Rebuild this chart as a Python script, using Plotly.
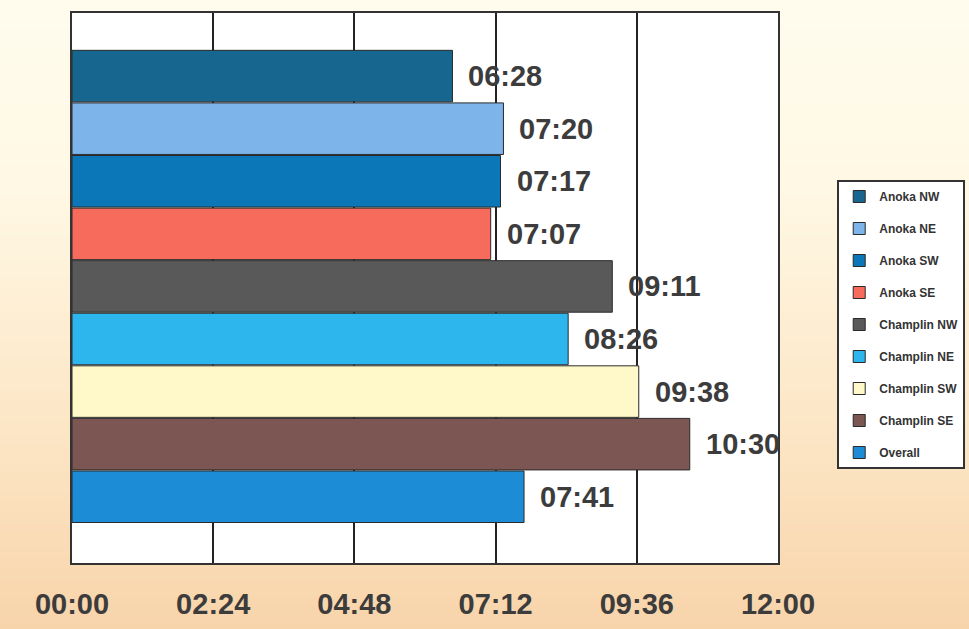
"""Response times by district: horizontal bar chart on a cream-to-peach backdrop."""
import plotly.graph_objects as go

# ── data ──────────────────────────────────────────────────────────────────────
DISTRICTS = [
    "Anoka NW", "Anoka NE", "Anoka SW", "Anoka SE",
    "Champlin NW", "Champlin NE", "Champlin SW", "Champlin SE", "Overall",
]
TIMES = ["06:28", "07:20", "07:17", "07:07", "09:11", "08:26", "09:38", "10:30", "07:41"]
TICK_VALS = [0, 144, 288, 432, 576, 720]
TICK_TEXT = ["00:00", "02:24", "04:48", "07:12", "09:36", "12:00"]

BAR_COLORS = [
    "#17668F", "#7DB4EA", "#0B76B8", "#F76B5C",
    "#595959", "#2DB6EE", "#FFF8C8", "#7B5652", "#1B8CD5",
]

TEXT_COLOR = "#3c3c3c"
FONT = "Liberation Sans, Arial, sans-serif"


def to_minutes(label: str) -> int:
    hh, mm = label.split(":")
    return int(hh) * 60 + int(mm)


minutes = [to_minutes(t) for t in TIMES]

fig = go.Figure()

# ── background gradient (own full-page axes, drawn underneath) ───────────────
fig.add_trace(go.Heatmap(
    z=[[0, 0], [1, 1]], x=[0, 1], y=[0, 1],
    zsmooth="best", showscale=False, hoverinfo="skip",
    colorscale=[[0, "#F8D4AA"], [0.3, "#FCE5C4"], [0.7, "#FFF8E4"], [1, "#FFFCEE"]],
    xaxis="x", yaxis="y", showlegend=False,
))

# ── bars ──────────────────────────────────────────────────────────────────────
for name, val, color in zip(DISTRICTS, minutes, BAR_COLORS):
    fig.add_trace(go.Bar(
        x=[val], y=[name], orientation="h", name=name, legendgroup=name,
        marker=dict(color=color, line=dict(color="#2a2a2a", width=1)),
        xaxis="x2", yaxis="y2",
    ))

for name, val, label in zip(DISTRICTS, minutes, TIMES):
    fig.add_annotation(
        x=val, y=name, xref="x2", yref="y2", text=label,
        xanchor="left", yanchor="middle", xshift=14, showarrow=False,
        font=dict(family=FONT, size=29, color=TEXT_COLOR, weight="bold"),
    )

fig.update_layout(
    width=969, height=629,
    margin=dict(l=0, r=0, t=0, b=0),
    paper_bgcolor="white",
    plot_bgcolor="white",
    barmode="overlay",
    bargap=0.02,
    font=dict(family=FONT, color=TEXT_COLOR),
    xaxis=dict(domain=[0, 1], range=[0, 1], visible=False, fixedrange=True),
    yaxis=dict(domain=[0, 1], range=[0, 1], visible=False, fixedrange=True),
    xaxis2=dict(
        domain=[72 / 969, 778 / 969], anchor="y2", range=[0, 720],
        tickvals=TICK_VALS, ticktext=TICK_TEXT,
        tickfont=dict(family=FONT, size=29, color=TEXT_COLOR, weight="bold"),
        ticks="outside", ticklen=14, tickcolor="rgba(0,0,0,0)",
        showgrid=True, gridcolor="#222222", gridwidth=2, zeroline=False,
        showline=True, mirror=True, linecolor="#333333", linewidth=2,
        automargin=False,
    ),
    yaxis2=dict(
        domain=[1 - 563 / 629, 1 - 13 / 629], anchor="x2",
        categoryorder="array", categoryarray=DISTRICTS,
        range=[9.26, -1.2], showticklabels=False, ticks="",
        showgrid=False, zeroline=False,
        showline=True, mirror=True, linecolor="#333333", linewidth=2,
        automargin=False,
    ),
    legend=dict(
        x=0.864, y=1 - 180 / 629, xanchor="left", yanchor="top",
        bgcolor="white", bordercolor="#333333", borderwidth=2,
        font=dict(family=FONT, size=12, color="#333333", weight="bold"),
        traceorder="grouped", tracegroupgap=13,
    ),
    showlegend=True,
)

# page body has a default 8px margin; drop it so the figure fills the window
fig.write_html(
    "out.html",
    config={"displayModeBar": False},
    post_script="document.body.style.margin='0';",
)
